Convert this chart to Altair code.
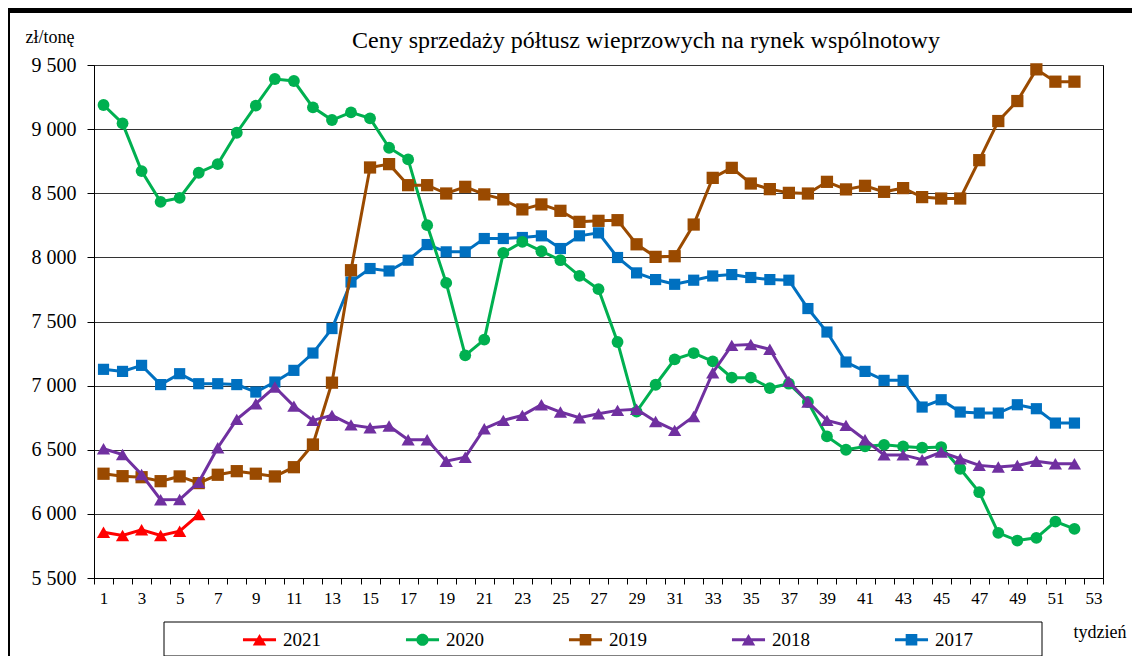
import altair as alt
import pandas as pd

# ---------------- data ----------------
years = ["2021", "2020", "2019", "2018", "2017"]
colors = ["#FF0000", "#00B050", "#9A4A00", "#7030A0", "#0070C0"]
shapes = ["triangle-up", "circle", "square", "triangle-up", "square"]

v2021 = [5857, 5831, 5876, 5831, 5865, 5995]
v2020 = [9188, 9045, 8673, 8433, 8464, 8660, 8727, 8972, 9183, 9391, 9375, 9170, 9071,
         9131, 9084, 8855, 8764, 8251, 7801, 7236, 7359, 8035, 8121, 8048, 7978, 7856,
         7752, 7340, 6797, 7007, 7205, 7254, 7189, 7062, 7062, 6981, 7015, 6872, 6604,
         6500, 6526, 6538, 6526, 6516, 6521, 6352, 6169, 5852, 5792, 5813, 5940, 5883]
v2019 = [6313, 6294, 6286, 6255, 6292, 6240, 6305, 6333, 6313, 6292, 6364, 6541, 7023,
         7900, 8701, 8727, 8563, 8563, 8498, 8550, 8491, 8452, 8374, 8413, 8363, 8277,
         8285, 8290, 8102, 8004, 8009, 8256, 8620, 8698, 8576, 8532, 8503, 8498, 8589,
         8530, 8558, 8511, 8540, 8470, 8459, 8459, 8758, 9063, 9219, 9466, 9370, 9370]
v2018 = [6508, 6463, 6307, 6110, 6112, 6247, 6516, 6737, 6859, 6989, 6840, 6729, 6768,
         6694, 6672, 6685, 6578, 6578, 6411, 6442, 6664, 6729, 6768, 6851, 6794, 6750,
         6781, 6807, 6816, 6721, 6651, 6760, 7101, 7314, 7320, 7283, 7033, 6872, 6729,
         6690, 6578, 6460, 6460, 6422, 6482, 6430, 6378, 6365, 6378, 6411, 6391, 6391]
v2017 = [7127, 7111, 7158, 7008, 7093, 7015, 7015, 7008, 6950, 7028, 7119, 7254, 7445,
         7808, 7913, 7894, 7978, 8100, 8043, 8043, 8147, 8147, 8155, 8168, 8069, 8168,
         8191, 7999, 7879, 7827, 7790, 7822, 7855, 7866, 7843, 7827, 7822, 7601, 7418,
         7184, 7111, 7041, 7041, 6833, 6890, 6794, 6786, 6786, 6851, 6820, 6708, 6708]

series = {"2021": v2021, "2020": v2020, "2019": v2019, "2018": v2018, "2017": v2017}

y_ticks = [5500, 6000, 6500, 7000, 7500, 8000, 8500, 9000, 9500]
week_bounds = [w - 0.5 for w in range(1, 55)]

chart_title = "Ceny sprzedaży półtusz wieprzowych na rynek wspólnotowy"
y_title = "zł/tonę"
x_title = "tydzień"

# ---------------- styling ----------------
FONT = "Liberation Serif"
marker_sizes = {"2021": 175, "2020": 140, "2019": 150, "2018": 175, "2017": 125}
draw_order = ["2017", "2020", "2019", "2018", "2021"]

# legend symbols: short line with the marker on it (unit-box SVG paths)
LINE = "M-2.7,-0.25H2.7V0.25H-2.7Z"
legend_paths = {
    "triangle-up": LINE + "M0,-0.95L1.1,0.95L-1.1,0.95Z",
    "circle": LINE + "M1,0A1,1 0 1,1 -1,0A1,1 0 1,1 1,0Z",
    "square": LINE + "M-0.95,-0.95H0.95V0.95H-0.95Z",
}
legend_shapes = [legend_paths[s] for s in shapes]

X = alt.X(
    "week:Q",
    scale=alt.Scale(domain=[0.5, 53.5], nice=False, zero=False),
    axis=alt.Axis(
        values=week_bounds,
        labelExpr="((datum.value + 0.5) % 2 == 1 && datum.value < 53) ? format(datum.value + 0.5, 'd') : ''",
        labelOffset=9.52,
        labelOverlap=False,
        labelFlush=False,
        labelFont=FONT,
        labelFontSize=17,
        labelColor="black",
        labelPadding=6,
        tickSize=6,
        tickColor="black",
        domainColor="black",
        grid=False,
        title=x_title,
        titleFont=FONT,
        titleFontSize=18,
        titleFontWeight="normal",
        titleColor="black",
        titleAlign="left",
        titleBaseline="alphabetic",
        titleX=979,
        titleY=59,
    ),
)

Y = alt.Y(
    "value:Q",
    scale=alt.Scale(domain=[5500, 9500], nice=False, zero=False),
    axis=alt.Axis(
        values=y_ticks,
        labelExpr="replace(format(datum.value, ','), ',', ' ')",
        labelFont=FONT,
        labelFontSize=20,
        labelColor="black",
        labelPadding=11,
        tickSize=7,
        tickColor="black",
        domainColor="black",
        grid=True,
        gridColor="#333333",
        gridWidth=1,
        title=y_title,
        titleFont=FONT,
        titleFontSize=18,
        titleFontWeight="normal",
        titleColor="black",
        titleAngle=0,
        titleAlign="left",
        titleBaseline="alphabetic",
        titleX=-69,
        titleY=-23,
    ),
)

color_scale = alt.Scale(domain=years, range=colors)
shape_scale = alt.Scale(domain=years, range=legend_shapes)
legend = alt.Legend(
    orient="none",
    legendX=156,
    legendY=565,
    direction="horizontal",
    columns=5,
    columnPadding=84,
    title=None,
    labelFont=FONT,
    labelFontSize=19,
    labelColor="black",
    labelOffset=14,
    symbolSize=150,
    symbolStrokeWidth=0,
)

layers = []

# outer frame (decoration)
frame_data = alt.Data(values=[{}])
layers.append(
    alt.Chart(frame_data).mark_rect(color="black").encode(
        x=alt.value(-86), x2=alt.value(1038), y=alt.value(-57), y2=alt.value(-52)
    )
)
layers.append(
    alt.Chart(frame_data).mark_rect(color="black").encode(
        x=alt.value(-86), x2=alt.value(-84), y=alt.value(-57), y2=alt.value(591)
    )
)
# legend box
layers.append(
    alt.Chart(frame_data).mark_rect(fillOpacity=0, stroke="black", strokeWidth=1).encode(
        x=alt.value(70), x2=alt.value(948), y=alt.value(557), y2=alt.value(591)
    )
)
# title
layers.append(
    alt.Chart(alt.Data(values=[{"label": chart_title}])).mark_text(
        font=FONT, fontSize=24, align="center", baseline="alphabetic", color="black"
    ).encode(text="label:N", x=alt.value(552), y=alt.value(-17))
)

frames = []
for yr in draw_order:
    vals = series[yr]
    df = pd.DataFrame({"week": list(range(1, len(vals) + 1)), "value": vals, "year": yr})
    frames.append(df)
    col = colors[years.index(yr)]
    shp = shapes[years.index(yr)]
    layers.append(
        alt.Chart(df).mark_line(color=col, strokeWidth=3).encode(x=X, y=Y)
    )
    layers.append(
        alt.Chart(df).mark_point(
            filled=True, opacity=1, size=marker_sizes[yr], color=col, shape=shp
        ).encode(x=X, y=Y)
    )

# legend-only layer (draws no marks, carries the colour/shape scales)
all_df = pd.concat(frames, ignore_index=True)
layers.append(
    alt.Chart(all_df)
    .transform_filter("false")
    .mark_point(filled=True, opacity=1)
    .encode(
        x=X,
        y=Y,
        color=alt.Color("year:N", scale=color_scale, legend=legend),
        shape=alt.Shape("year:N", scale=shape_scale, legend=legend),
    )
)

chart = (
    alt.layer(*layers)
    .properties(
        width=1009,
        height=513,
        autosize=alt.AutoSizeParams(type="none"),
        padding={"left": 86, "top": 57, "right": 29, "bottom": 78},
        background="white",
    )
    .configure(font=FONT)
    .configure_axis(labelFont=FONT, titleFont=FONT)
    .configure_legend(labelFont=FONT)
    .configure_view(stroke="black", strokeWidth=1)
)

chart.save("out.html", embed_options={"renderer": "svg", "actions": False})
